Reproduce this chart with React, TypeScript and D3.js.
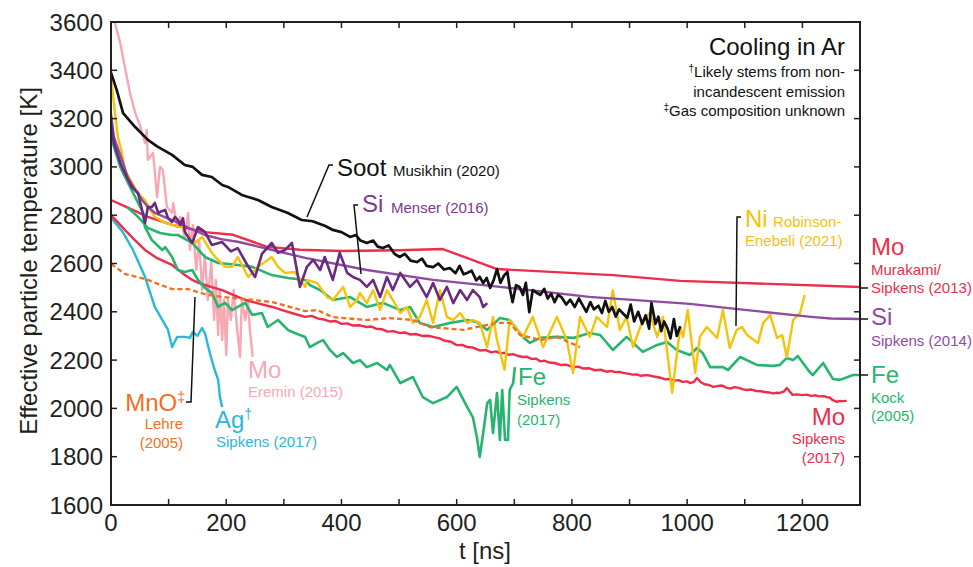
import React from "react";
import * as d3 from "d3";

type P = [number, number];

// ---- axis ticks ----
const xTicks = d3.range(0, 1301, 100);
const xTickLabels = [0, 200, 400, 600, 800, 1000, 1200];
const yTicks = [1600, 1800, 2000, 2200, 2400, 2600, 2800, 3000, 3200, 3400, 3600];

// ---- series (t [ns], T [K]) ----
const moEremin: P[] = [
  [0, 3680], [7, 3596], [16, 3513], [24, 3414], [33, 3306], [42, 3223], [50, 3174], [59, 3099], [62, 3153],
  [64, 3029], [73, 3058], [80, 2875], [85, 3000], [90, 2987], [97, 2834], [106, 2809], [108, 2850],
  [115, 2751], [120, 2793], [128, 2710], [134, 2809], [137, 2656], [142, 2760], [148, 2573], [153, 2697],
  [158, 2490], [163, 2635], [168, 2449], [174, 2606], [179, 2366], [182, 2532], [186, 2304], [189, 2490],
  [193, 2283], [196, 2449], [200, 2221], [203, 2449], [208, 2366], [213, 2490], [219, 2325], [224, 2213],
  [227, 2449], [233, 2366], [238, 2449], [241, 2325], [246, 2213],
];

const agSipkens: P[] = [
  [0, 2790], [21, 2728], [38, 2657], [59, 2545], [76, 2420], [99, 2325], [106, 2254], [115, 2296],
  [128, 2296], [137, 2292], [142, 2317], [150, 2300], [158, 2333], [163, 2312], [172, 2225], [180, 2159],
  [186, 2118], [189, 2047], [193, 2006],
];

const mnoLehre: P[] = [
  [0, 2598], [24, 2557], [59, 2536], [106, 2494], [134, 2494], [163, 2473], [193, 2461], [233, 2453],
  [280, 2440], [337, 2403], [358, 2407], [385, 2378], [444, 2366], [484, 2374], [524, 2366], [554, 2337],
  [611, 2325], [670, 2354], [692, 2354], [710, 2304], [745, 2283], [774, 2296], [814, 2254],
];

const moSipkens2017: P[] = [
  [0, 2800], [12, 2770], [24, 2739], [40, 2700], [59, 2656], [80, 2622], [106, 2594], [124, 2560],
  [141, 2532], [152, 2520], [163, 2511], [178, 2500], [193, 2490], [212, 2470], [233, 2449], [255, 2435],
  [280, 2420], [300, 2405], [318, 2392], [337, 2379], [348, 2383], [360, 2372], [370, 2368], [380, 2360],
  [390, 2362], [400, 2350], [410, 2352], [420, 2343], [432, 2344], [444, 2337], [452, 2339], [460, 2330],
  [470, 2328], [480, 2318], [490, 2320], [502, 2312], [511, 2314], [520, 2306], [530, 2308], [540, 2300],
  [550, 2301], [559, 2296], [570, 2290], [580, 2280], [590, 2276], [600, 2262], [610, 2263], [618, 2254],
  [628, 2252], [640, 2240], [650, 2242], [660, 2232], [668, 2236], [675, 2229], [683, 2230], [690, 2222],
  [698, 2225], [705, 2218], [715, 2213], [722, 2214], [730, 2205], [738, 2206], [745, 2195], [752, 2198],
  [760, 2190], [770, 2188], [780, 2180], [790, 2181], [802, 2171], [811, 2173], [820, 2165], [830, 2166],
  [840, 2158], [850, 2160], [860, 2152], [868, 2155], [875, 2150], [882, 2151], [889, 2147], [897, 2144],
  [905, 2140], [912, 2141], [920, 2135], [928, 2138], [935, 2136], [942, 2132], [948, 2130], [955, 2126],
  [962, 2120], [970, 2122], [978, 2115], [985, 2117], [992, 2110], [1000, 2112], [1005, 2105], [1012, 2110],
  [1017, 2126], [1024, 2108], [1030, 2100], [1038, 2097], [1045, 2089], [1052, 2092], [1060, 2095],
  [1068, 2086], [1075, 2082], [1082, 2088], [1090, 2085], [1097, 2079], [1104, 2076], [1112, 2078],
  [1120, 2072], [1128, 2071], [1135, 2068], [1142, 2066], [1150, 2062], [1156, 2065], [1161, 2064],
  [1168, 2070], [1173, 2084], [1178, 2070], [1183, 2056], [1190, 2058], [1200, 2055], [1207, 2057],
  [1215, 2052], [1222, 2054], [1230, 2050], [1237, 2051], [1243, 2047], [1248, 2044], [1252, 2035],
  [1260, 2027], [1265, 2031], [1270, 2030], [1277, 2031],
];

const moMurakami: P[] = [
  [0, 2863], [30, 2830], [64, 2793], [106, 2760], [163, 2730], [212, 2719], [271, 2669], [328, 2657],
  [400, 2652], [500, 2655], [576, 2660], [670, 2577], [871, 2552], [988, 2528], [1300, 2503],
];

const feKock: P[] = [
  [28, 2834], [47, 2793], [64, 2747], [85, 2726], [106, 2718], [116, 2718], [141, 2685], [163, 2627],
  [186, 2602], [220, 2594], [245, 2586], [279, 2552], [307, 2540], [337, 2532], [345, 2511], [363, 2490],
  [385, 2449], [415, 2461], [444, 2420], [472, 2437], [502, 2407], [519, 2420], [536, 2354], [559, 2337],
  [588, 2354], [618, 2366], [635, 2358], [653, 2325], [675, 2374], [692, 2366], [715, 2296], [727, 2271],
  [745, 2292], [774, 2296], [802, 2292], [831, 2312], [849, 2304], [871, 2242], [895, 2296], [923, 2234],
  [948, 2263], [965, 2275], [982, 2242], [1005, 2221], [1017, 2250], [1027, 2229], [1040, 2171],
  [1062, 2171], [1071, 2159], [1092, 2213], [1121, 2180], [1149, 2176], [1161, 2180], [1173, 2209],
  [1184, 2200], [1192, 2217], [1210, 2159], [1218, 2138], [1236, 2188], [1253, 2122], [1265, 2118],
  [1288, 2138], [1300, 2138],
];

const feSipkens: P[] = [
  [0, 3120], [3, 3100], [16, 3000], [33, 2917], [56, 2809], [59, 2751], [71, 2697], [89, 2656], [94, 2668],
  [106, 2627], [116, 2573], [128, 2565], [141, 2573], [151, 2532], [163, 2499], [175, 2478], [186, 2420],
  [198, 2437], [210, 2407], [220, 2420], [233, 2437], [245, 2387], [262, 2395], [272, 2337], [290, 2366],
  [307, 2325], [319, 2312], [337, 2296], [345, 2254], [358, 2271], [368, 2283], [380, 2242], [392, 2213],
  [403, 2229], [420, 2188], [432, 2200], [444, 2171], [462, 2188], [479, 2159], [484, 2180], [502, 2105],
  [524, 2130], [541, 2047], [559, 2022], [583, 2047], [600, 2089], [618, 2006], [628, 1964], [635, 1882],
  [640, 1799], [646, 1898], [653, 2022], [658, 2035], [663, 1898], [670, 2064], [675, 1869], [679, 2076],
  [684, 1869], [689, 1869], [692, 2076], [698, 2105], [701, 2171],
];

const niRobinson: P[] = [
  [0, 3370], [7, 3223], [12, 3124], [19, 3058], [24, 2987], [36, 2935], [47, 2892], [59, 2863], [68, 2822],
  [76, 2793], [94, 2768], [106, 2760], [116, 2755], [123, 2751], [134, 2710], [146, 2685], [158, 2710],
  [175, 2644], [186, 2615], [198, 2586], [210, 2586], [220, 2627], [238, 2544], [255, 2586], [279, 2627],
  [290, 2586], [302, 2561], [319, 2565], [337, 2503], [340, 2532], [358, 2519], [375, 2461], [385, 2449],
  [403, 2503], [415, 2420], [427, 2449], [432, 2478], [444, 2436], [455, 2490], [467, 2408], [479, 2490],
  [489, 2449], [502, 2395], [514, 2420], [524, 2354], [536, 2379], [548, 2449], [559, 2354], [571, 2490],
  [583, 2379], [594, 2366], [606, 2395], [618, 2354], [628, 2366], [640, 2354], [653, 2254], [663, 2379],
  [670, 2283], [683, 2160], [692, 2366], [715, 2296], [732, 2379], [750, 2254], [774, 2379], [791, 2283],
  [802, 2147], [814, 2379], [831, 2296], [843, 2379], [861, 2337], [871, 2490], [883, 2325], [895, 2379],
  [906, 2254], [923, 2366], [935, 2395], [948, 2296], [958, 2379], [974, 2064], [988, 2337], [993, 2296],
  [1001, 2408], [1014, 2147], [1022, 2296], [1034, 2337], [1052, 2292], [1062, 2408], [1074, 2250],
  [1086, 2325], [1095, 2337], [1104, 2304], [1123, 2271], [1132, 2354], [1144, 2387], [1156, 2292],
  [1165, 2304], [1173, 2213], [1184, 2366], [1196, 2395], [1204, 2470],
];

const siSipkens: P[] = [
  [0, 3220], [5, 3124], [19, 3029], [29, 2958], [42, 2904], [54, 2863], [64, 2834], [76, 2810], [106, 2780],
  [134, 2748], [163, 2718], [193, 2700], [220, 2690], [280, 2656], [337, 2623], [444, 2573], [559, 2532],
  [675, 2503], [830, 2462], [1005, 2433], [1100, 2408], [1215, 2379], [1250, 2372], [1300, 2370],
];

const siMenser: P[] = [
  [0, 3190], [5, 3100], [17, 3010], [29, 2950], [36, 2917], [47, 2892], [59, 2768], [64, 2834], [71, 2834],
  [76, 2851], [82, 2809], [85, 2813], [94, 2822], [99, 2788], [106, 2772], [111, 2793], [116, 2780],
  [120, 2760], [125, 2788], [128, 2731], [141, 2685], [151, 2751], [163, 2731], [175, 2677], [193, 2689],
  [208, 2650], [220, 2664], [235, 2600], [250, 2544], [262, 2640], [279, 2685], [290, 2644], [302, 2656],
  [314, 2685], [328, 2503], [340, 2586], [351, 2615], [363, 2573], [371, 2627], [385, 2532], [397, 2644],
  [410, 2561], [420, 2544], [432, 2532], [444, 2503], [455, 2532], [467, 2461], [479, 2544], [489, 2490],
  [502, 2561], [519, 2503], [531, 2532], [548, 2461], [559, 2519], [571, 2449], [583, 2503], [594, 2436],
  [606, 2490], [618, 2449], [628, 2490], [640, 2461], [646, 2420], [653, 2436],
];

const sootMusikhin: P[] = [
  [0, 3390], [10, 3318], [21, 3223], [42, 3165], [64, 3112], [80, 3085], [106, 3050], [128, 3008],
  [142, 3000], [158, 2967], [175, 2958], [193, 2925], [203, 2917], [227, 2884], [255, 2863], [279, 2834],
  [307, 2809], [331, 2780], [350, 2775], [358, 2768], [372, 2755], [385, 2739], [400, 2730], [415, 2710],
  [425, 2718], [433, 2695], [444, 2685], [455, 2695], [463, 2670], [472, 2664], [482, 2675], [492, 2640],
  [501, 2627], [510, 2640], [520, 2612], [531, 2606], [540, 2620], [548, 2590], [559, 2585], [568, 2600],
  [578, 2575], [588, 2581], [598, 2560], [605, 2590], [612, 2555], [618, 2561], [626, 2570], [634, 2530],
  [640, 2545], [646, 2519], [652, 2540], [658, 2499], [664, 2530], [670, 2577], [676, 2520], [682, 2550],
  [688, 2565], [692, 2500], [697, 2440], [703, 2510], [709, 2503], [715, 2470], [720, 2520], [726, 2399],
  [732, 2490], [738, 2480], [745, 2470], [752, 2495], [758, 2455], [764, 2475], [770, 2440], [776, 2470],
  [782, 2460], [790, 2430], [797, 2450], [805, 2420], [812, 2455], [818, 2430], [825, 2400], [832, 2440],
  [838, 2410], [846, 2425], [852, 2395], [858, 2445], [864, 2400], [870, 2420], [876, 2380], [882, 2410],
  [890, 2390], [896, 2375], [902, 2430], [908, 2360], [915, 2400], [922, 2350], [928, 2385], [934, 2330],
  [938, 2436], [945, 2350], [950, 2380], [955, 2320], [960, 2360], [966, 2330], [971, 2290], [977, 2370],
  [982, 2300], [988, 2340],
];

// ---- styling ----
const C = {
  ink: "#231F20",
  black: "#111111",
  red: "#EE2D4B",
  pink: "#F6A8B3",
  cyan: "#2BB7D9",
  orange: "#F37022",
  green: "#27B46E",
  yellow: "#F5C20C",
  purpleDark: "#6B2A80",
  purple: "#8F4B9F",
};

const W = 973;
const H = 567;
const L = 111, R = 860, T = 22, B = 505;
const FONT = "'Liberation Sans', Arial, Helvetica, sans-serif";

const x = d3.scaleLinear().domain([0, 1300]).range([L, R]);
const y = d3.scaleLinear().domain([1600, 3600]).range([B, T]);
const line = d3.line<P>().x((d) => x(d[0])).y((d) => y(d[1]));

const series: { data: P[]; color: string; width: number; dash?: string }[] = [
  { data: moEremin, color: C.pink, width: 2.4 },
  { data: agSipkens, color: C.cyan, width: 2.4 },
  { data: moSipkens2017, color: C.red, width: 2.4 },
  { data: moMurakami, color: C.red, width: 2.4 },
  { data: feKock, color: C.green, width: 2.6 },
  { data: feSipkens, color: C.green, width: 2.6 },
  { data: niRobinson, color: C.yellow, width: 2.4 },
  { data: mnoLehre, color: C.orange, width: 2.4, dash: "5,3" },
  { data: siSipkens, color: C.purple, width: 2.4 },
  { data: siMenser, color: C.purpleDark, width: 2.6 },
  { data: sootMusikhin, color: C.black, width: 2.7 },
];

const Sup = ({ s }: { s: string }) => (
  <tspan fontSize={14} dy={-9}>{s}</tspan>
);

export default function App() {
  const big = 24;
  const small = 15;
  return (
    <svg
      width={W}
      height={H}
      style={{ position: "absolute", left: 0, top: 0, background: "#fff" }}
      fontFamily={FONT}
    >
      <defs>
        <clipPath id="plot">
          <rect x={L} y={T} width={R - L} height={B - T} />
        </clipPath>
      </defs>

      <g clipPath="url(#plot)">
        {series.map((s, i) => (
          <path
            key={i}
            d={line(s.data) || ""}
            fill="none"
            stroke={s.color}
            strokeWidth={s.width}
            strokeDasharray={s.dash}
            strokeLinejoin="round"
          />
        ))}
      </g>

      {/* frame */}
      <rect x={L} y={T} width={R - L} height={B - T} fill="none" stroke={C.ink} strokeWidth={2} />
      {xTicks.map((t) => (
        <g key={"xt" + t}>
          <line x1={x(t)} x2={x(t)} y1={B} y2={B - 6} stroke={C.ink} strokeWidth={1.5} />
          <line x1={x(t)} x2={x(t)} y1={T} y2={T + 6} stroke={C.ink} strokeWidth={1.5} />
        </g>
      ))}
      {yTicks.map((v) => (
        <g key={"yt" + v}>
          <line x1={L} x2={L + 6} y1={y(v)} y2={y(v)} stroke={C.ink} strokeWidth={1.5} />
          <line x1={R} x2={R - 6} y1={y(v)} y2={y(v)} stroke={C.ink} strokeWidth={1.5} />
          <text x={103} y={y(v) + 8.5} textAnchor="end" fontSize={big} fill={C.ink}>
            {v}
          </text>
        </g>
      ))}
      {xTickLabels.map((t) => (
        <text key={"xl" + t} x={x(t)} y={531} textAnchor="middle" fontSize={big} fill={C.ink}>
          {t}
        </text>
      ))}
      <text x={485} y={559} textAnchor="middle" fontSize={big} fill={C.ink}>
        t [ns]
      </text>
      <text
        transform="translate(37,261) rotate(-90)"
        textAnchor="middle"
        fontSize={big}
        fill={C.ink}
      >
        Effective particle temperature [K]
      </text>

      {/* title and notes */}
      <text x={845} y={55} textAnchor="end" fontSize={big} fill={C.black}>
        Cooling in Ar
      </text>
      <text x={845} y={77} textAnchor="end" fontSize={small} fill={C.black}>
        <tspan fontSize={10} dy={-5}>†</tspan>
        <tspan dy={5}>Likely stems from non-</tspan>
      </text>
      <text x={845} y={97} textAnchor="end" fontSize={small} fill={C.black}>
        incandescent emission
      </text>
      <text x={845} y={116} textAnchor="end" fontSize={small} fill={C.black}>
        <tspan fontSize={10} dy={-5}>‡</tspan>
        <tspan dy={5}>Gas composition unknown</tspan>
      </text>

      {/* leader lines */}
      <g fill="none" stroke={C.black} strokeWidth={1.5}>
        <path d="M333,165 L329,165 L307,217" />
        <path d="M358,205 L354,205 L361,274" />
        <path d="M741,217 L737,217 L736,326" />
        <path d="M186,402 L191,402 L195,297" />
        <path d="M860,288 L868,288" />
        <path d="M860,319 L868,319" />
        <path d="M860,375 L868,375" />
      </g>

      {/* Soot */}
      <text x={337} y={176} fontSize={big} fill={C.black}>Soot</text>
      <text x={393} y={176} fontSize={small} fill={C.black}>Musikhin (2020)</text>

      {/* Si Menser */}
      <text x={362} y={212} fontSize={big} fill="#7A3A8D">Si</text>
      <text x={391} y={213} fontSize={small} fill="#7A3A8D">Menser (2016)</text>

      {/* Ni */}
      <text x={745} y={227} fontSize={big} fill={C.yellow}>Ni</text>
      <text x={773} y={227} fontSize={small} fill={C.yellow}>Robinson-</text>
      <text x={745} y={246} fontSize={small} fill={C.yellow}>Enebeli (2021)</text>

      {/* Mo Murakami */}
      <text x={871} y={255} fontSize={big} fill={C.red}>Mo</text>
      <text x={871} y={275} fontSize={small} fill={C.red}>Murakami/</text>
      <text x={871} y={293} fontSize={small} fill={C.red}>Sipkens (2013)</text>

      {/* Si Sipkens */}
      <text x={871} y={325} fontSize={big} fill={C.purple}>Si</text>
      <text x={871} y={346} fontSize={small} fill={C.purple}>Sipkens (2014)</text>

      {/* Fe Kock */}
      <text x={871} y={383} fontSize={big} fill={C.green}>Fe</text>
      <text x={871} y={403} fontSize={small} fill={C.green}>Kock</text>
      <text x={871} y={421} fontSize={small} fill={C.green}>(2005)</text>

      {/* Mo Sipkens 2017 */}
      <text x={845} y={425} textAnchor="end" fontSize={big} fill={C.red}>Mo</text>
      <text x={845} y={444} textAnchor="end" fontSize={small} fill={C.red}>Sipkens</text>
      <text x={845} y={463} textAnchor="end" fontSize={small} fill={C.red}>(2017)</text>

      {/* Fe Sipkens 2017 */}
      <text x={518} y={385} fontSize={big} fill={C.green}>Fe</text>
      <text x={517} y={405} fontSize={small} fill={C.green}>Sipkens</text>
      <text x={517} y={425} fontSize={small} fill={C.green}>(2017)</text>

      {/* Mo Eremin */}
      <text x={248} y={378} fontSize={big} fill={C.pink}>Mo</text>
      <text x={248} y={397} fontSize={small} fill={C.pink}>Eremin (2015)</text>

      {/* Ag */}
      <text x={215} y={428} fontSize={big} fill={C.cyan}>
        Ag<Sup s="†" />
      </text>
      <text x={216} y={447} fontSize={small} fill={C.cyan}>Sipkens (2017)</text>

      {/* MnO */}
      <text x={185} y={411} textAnchor="end" fontSize={big} fill={C.orange}>
        MnO<Sup s="‡" />
      </text>
      <text x={183} y={429} textAnchor="end" fontSize={small} fill={C.orange}>Lehre</text>
      <text x={183} y={448} textAnchor="end" fontSize={small} fill={C.orange}>(2005)</text>
    </svg>
  );
}
